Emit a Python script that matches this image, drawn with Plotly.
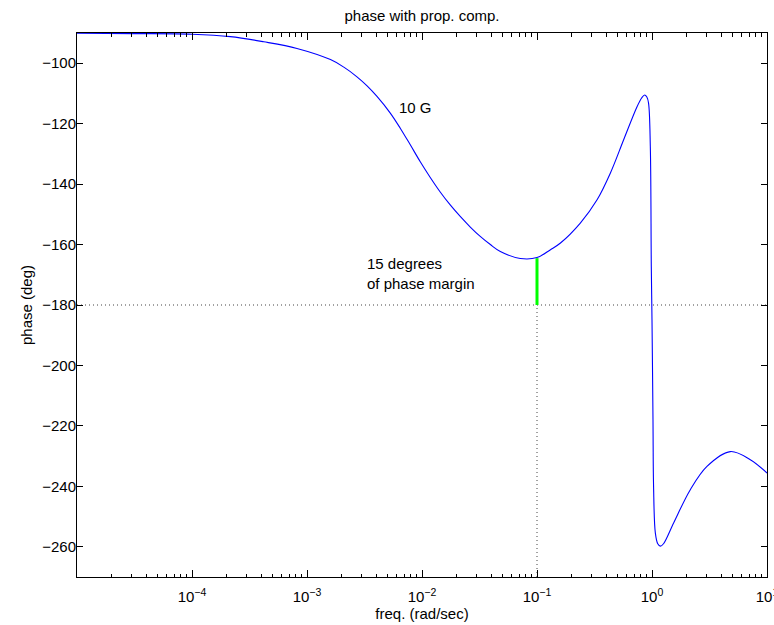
import plotly.graph_objects as go

# frequency (rad/sec) and phase (deg)
freq = [1.0e-5, 3.16e-5, 1.0e-4, 2.15e-4, 4.2e-4, 8.18e-4, 1.6e-3, 2.09e-3, 2.72e-3,
        3.33e-3, 4.06e-3, 5.3e-3, 6.47e-3, 7.91e-3, 9.66e-3, 1.18e-2, 1.44e-2,
        1.76e-2, 2.15e-2, 2.63e-2, 3.21e-2, 3.93e-2,
        4.8e-2, 7.16e-2, 0.1, 0.131, 0.16, 0.238, 0.333, 0.434, 0.566,
        0.741, 0.813, 0.863, 0.902, 0.933, 0.967, 0.986, 1.0, 1.02, 1.032,
        1.069, 1.122, 1.183, 1.259, 1.542, 2.153, 3.006, 4.8, 7.16, 10.0]
phase = [-90.1, -90.2, -90.4, -91.2, -92.9, -95.1, -98.8, -101.3, -104.5,
         -107.5, -111.0, -116.5, -121.5, -127.0, -132.6, -137.8, -142.6,
         -146.9, -150.7, -154.2, -157.3, -160.0,
         -162.3, -164.6, -164.3, -161.7, -159.5, -152.9, -145.2, -136.4, -125.4,
         -114.4, -111.5, -110.5, -111.2, -113.2, -127.6, -167.3, -185.0, -218.0, -240.0,
         -255.4, -259.0, -259.8, -259.0, -252.1, -241.1, -233.4, -228.5, -231.2, -235.6]

crossover_freq = 0.1
phase_at_crossover = -164.5
ref_phase = -180

x_tickvals = [1e-4, 1e-3, 1e-2, 1e-1, 1e0, 1e1]
x_ticktext = ["10<sup>\u22124</sup>", "10<sup>\u22123</sup>", "10<sup>\u22122</sup>",
              "10<sup>\u22121</sup>", "10<sup>0</sup>", "10<sup>1</sup>"]
y_tickvals = [-100, -120, -140, -160, -180, -200, -220, -240, -260]

FONT = "Liberation Sans, Arial, Helvetica, sans-serif"
FS = 15

fig = go.Figure()

# dotted reference lines
dot = dict(color="#444444", width=1, dash="1px,3px")
fig.add_trace(go.Scatter(x=[1e-5, 10], y=[ref_phase, ref_phase], mode="lines",
                         line=dot, hoverinfo="skip", showlegend=False))
fig.add_trace(go.Scatter(x=[crossover_freq, crossover_freq], y=[-270, ref_phase], mode="lines",
                         line=dot, hoverinfo="skip", showlegend=False))
# phase curve
fig.add_trace(go.Scatter(x=freq, y=phase, mode="lines",
                         line=dict(color="#0000ff", width=1.1, shape="spline", smoothing=1.0),
                         showlegend=False))
# phase margin bar
fig.add_trace(go.Scatter(x=[crossover_freq, crossover_freq], y=[ref_phase, phase_at_crossover],
                         mode="lines", line=dict(color="#00ff00", width=3),
                         showlegend=False))

fig.add_annotation(x=-2.215, y=-114.5, xref="x", yref="y", text="10 G", showarrow=False,
                   xanchor="left", yanchor="middle", font=dict(size=FS, color="black", family=FONT))
fig.add_annotation(x=-2.50, y=-169.7, xref="x", yref="y", text="15 degrees<br>of phase margin",
                   showarrow=False, xanchor="left", yanchor="middle", align="left",
                   font=dict(size=FS, color="black", family=FONT))

fig.update_layout(
    width=774, height=625,
    margin=dict(l=77, r=7, t=33, b=48),
    paper_bgcolor="white", plot_bgcolor="white",
    font=dict(family=FONT, size=FS, color="black"),
    title=dict(text="phase with prop. comp.", x=(77 + 767) / 2 / 774, xanchor="center",
               y=1 - 16 / 625, yanchor="middle", yref="container",
               font=dict(size=FS, family=FONT, color="black")),
    xaxis=dict(type="log", range=[-5, 1], tickvals=x_tickvals, ticktext=x_ticktext,
               ticks="inside", ticklen=7, tickcolor="black", showgrid=False, zeroline=False,
               showline=True, linecolor="black", linewidth=1, mirror="ticks",
               ticklabeloverflow="allow", ticklabelstandoff=6, automargin="height",
               minor=dict(ticks="inside", ticklen=3.5, tickcolor="black", dtick="D1", showgrid=False),
               title=dict(text="freq. (rad/sec)", standoff=2, font=dict(size=FS)),
               tickfont=dict(size=FS)),
    yaxis=dict(range=[-270, -90], tickvals=y_tickvals,
               ticks="inside", ticklen=6, tickcolor="black", showgrid=False, zeroline=False,
               showline=True, linecolor="black", linewidth=1, mirror="ticks",
               ticklabelstandoff=-3,
               title=dict(text="phase (deg)", standoff=5, font=dict(size=FS)),
               tickfont=dict(size=FS)),
)

fig.write_html("out.html")
